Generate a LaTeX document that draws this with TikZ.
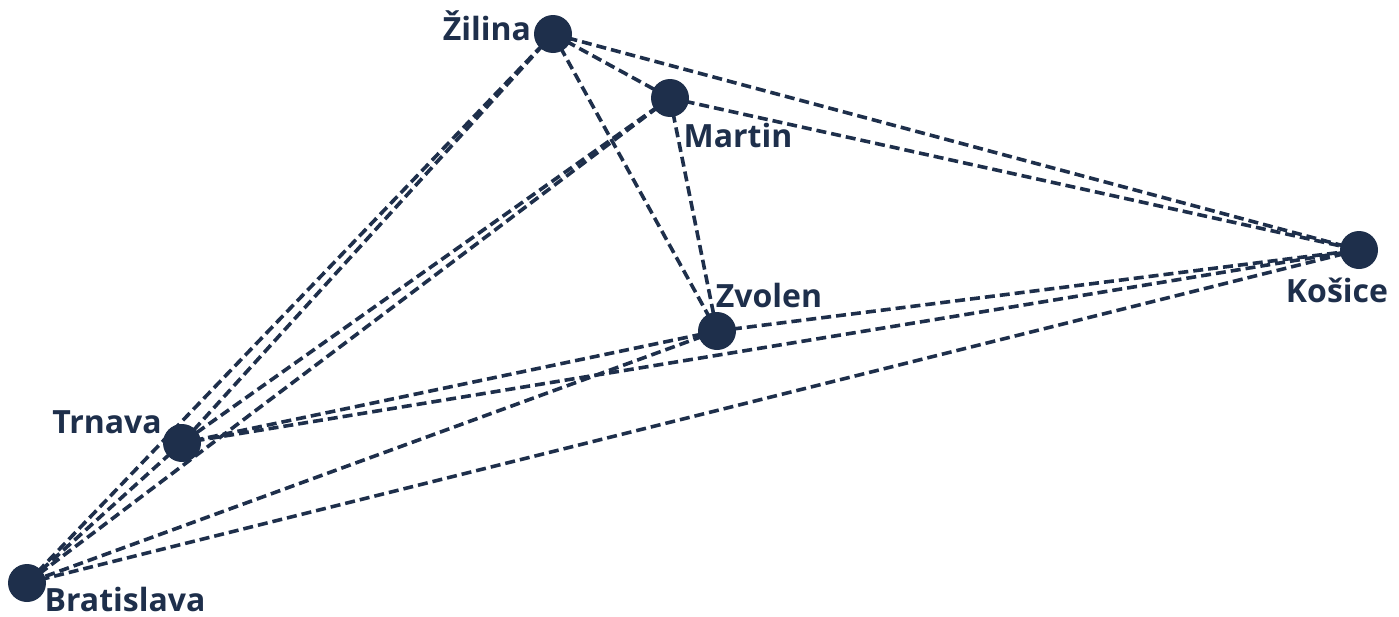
\documentclass[tikz,border=0pt]{standalone}
\usepackage{fontspec}
\setmainfont{Open Sans}
\definecolor{navy}{HTML}{1E2F4B}
\begin{document}
\begin{tikzpicture}[x=1pt,y=-1pt,
  city/.style={circle,fill=navy,inner sep=0pt,minimum size=38pt},
  lbl/.style={text=navy,font=\bfseries\fontsize{32}{36}\selectfont,inner sep=0pt,anchor=base},
  link/.style={draw=navy,line width=3.6pt,dash pattern=on 10pt off 5pt}]
\useasboundingbox (0,0) rectangle (1399,616);
\coordinate (zi) at (553,34);
\coordinate (ma) at (670,98);
\coordinate (zv) at (717,331);
\coordinate (ko) at (1359,250);
\coordinate (tr) at (182,443);
\coordinate (br) at (27,583);
\foreach \a/\b in {zi/ma,zi/zv,zi/ko,zi/tr,zi/br,ma/ko,ma/zv,ma/tr,ma/br,zv/ko,zv/tr,zv/br,ko/tr,ko/br,tr/br}
  \draw[link] (\a) -- (\b);
\node[city] (nzi) at (zi) {};
\node[city] (nma) at (ma) {};
\node[city] (nzv) at (zv) {};
\node[city] (nko) at (ko) {};
\node[city] (ntr) at (tr) {};
\node[city] (nbr) at (br) {};
\node[lbl] (lzi) at (487,40) {Žilina};
\node[lbl] (lma) at (738,147) {Martin};
\node[lbl] (lzv) at (769,307) {Zvolen};
\node[lbl] (lko) at (1337,302) {Košice};
\node[lbl] (ltr) at (107,433) {Trnava};
\node[lbl] (lbr) at (125,611) {Bratislava};
\end{tikzpicture}
\end{document}
